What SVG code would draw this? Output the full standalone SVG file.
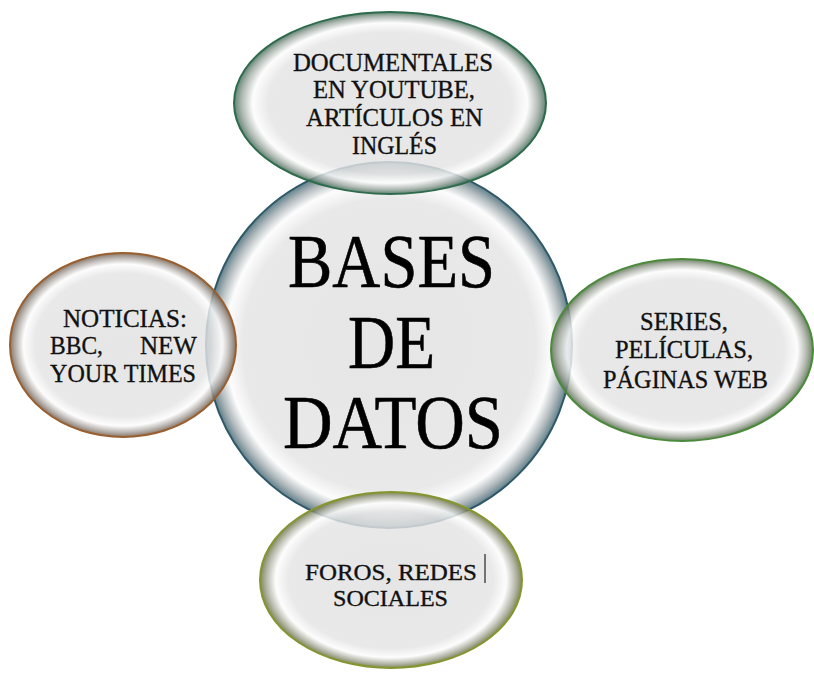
<svg xmlns="http://www.w3.org/2000/svg" width="814" height="673" viewBox="0 0 814 673">
<defs>
<radialGradient id="gC"><stop offset="0" stop-color="#e0e0e0"/><stop offset="0.8" stop-color="#e4e4e4"/><stop offset="0.89" stop-color="#fcfcfc"/><stop offset="0.95" stop-color="#a3adb1"/><stop offset="1" stop-color="#3f6470"/></radialGradient>
<radialGradient id="gT"><stop offset="0" stop-color="#e0e0e0"/><stop offset="0.78" stop-color="#e4e4e4"/><stop offset="0.88" stop-color="#fcfcfc"/><stop offset="0.95" stop-color="#a0aba4"/><stop offset="1" stop-color="#3f6a55"/></radialGradient>
<radialGradient id="gL"><stop offset="0" stop-color="#e0e0e0"/><stop offset="0.78" stop-color="#e4e4e4"/><stop offset="0.88" stop-color="#fcfcfc"/><stop offset="0.95" stop-color="#a8a29d"/><stop offset="1" stop-color="#6e5a48"/></radialGradient>
<radialGradient id="gR"><stop offset="0" stop-color="#e0e0e0"/><stop offset="0.78" stop-color="#e4e4e4"/><stop offset="0.88" stop-color="#fcfcfc"/><stop offset="0.95" stop-color="#a4aa9f"/><stop offset="1" stop-color="#4f6a45"/></radialGradient>
<radialGradient id="gB"><stop offset="0" stop-color="#e0e0e0"/><stop offset="0.78" stop-color="#e4e4e4"/><stop offset="0.88" stop-color="#fcfcfc"/><stop offset="0.95" stop-color="#a7aa99"/><stop offset="1" stop-color="#666d3a"/></radialGradient>
</defs>
<style>
.n{fill-opacity:0.82;stroke-width:2}
.t{font-family:"Liberation Serif","DejaVu Serif",serif;font-size:26px;fill:#111;stroke:#111;stroke-width:0.35}
.s{font-size:24px}
.big{font-family:"Liberation Serif","DejaVu Serif",serif;font-size:76px;fill:#000;stroke:#000;stroke-width:0.6}
</style>
<rect width="814" height="673" fill="#ffffff"/>
<g id="connectors"/>
<g id="center">
<circle class="n" cx="389" cy="345" r="183" fill="url(#gC)" stroke="#2f5868"/>
<text class="big" x="288" y="287" textLength="207" lengthAdjust="spacingAndGlyphs">BASES</text>
<text class="big" x="348" y="368" textLength="87" lengthAdjust="spacingAndGlyphs">DE</text>
<text class="big" x="283" y="448" textLength="220" lengthAdjust="spacingAndGlyphs">DATOS</text>
</g>
<g id="top">
<ellipse class="n" cx="390" cy="103" rx="156" ry="91" fill="url(#gT)" stroke="#2e6a4c"/>
<text class="t" x="293" y="71" textLength="200" lengthAdjust="spacingAndGlyphs">DOCUMENTALES</text>
<text class="t" x="313" y="98" textLength="162" lengthAdjust="spacingAndGlyphs">EN YOUTUBE,</text>
<text class="t" x="306" y="126" textLength="177" lengthAdjust="spacingAndGlyphs">ARTÍCULOS EN</text>
<text class="t" x="352" y="154" textLength="85" lengthAdjust="spacingAndGlyphs">INGLÉS</text>
</g>
<g id="left">
<ellipse class="n" cx="123" cy="345" rx="113" ry="92" fill="url(#gL)" stroke="#9a5f2e"/>
<text class="t" x="63" y="327" textLength="124" lengthAdjust="spacingAndGlyphs">NOTICIAS:</text>
<text class="t" y="354"><tspan x="50" textLength="53" lengthAdjust="spacingAndGlyphs">BBC,</tspan><tspan x="140" textLength="57" lengthAdjust="spacingAndGlyphs">NEW</tspan></text>
<text class="t" x="50" y="382" textLength="146" lengthAdjust="spacingAndGlyphs">YOUR TIMES</text>
</g>
<g id="right">
<ellipse class="n" cx="682" cy="350" rx="131" ry="91" fill="url(#gR)" stroke="#4a8a3a"/>
<text class="t" x="640" y="330" textLength="88" lengthAdjust="spacingAndGlyphs">SERIES,</text>
<text class="t" x="615" y="358" textLength="138" lengthAdjust="spacingAndGlyphs">PELÍCULAS,</text>
<text class="t" x="603" y="388" textLength="165" lengthAdjust="spacingAndGlyphs">PÁGINAS WEB</text>
</g>
<g id="bottom">
<ellipse class="n" cx="391" cy="580" rx="131" ry="88" fill="url(#gB)" stroke="#86962e"/>
<text class="t s" x="305" y="580" textLength="172" lengthAdjust="spacingAndGlyphs">FOROS, REDES</text>
<text class="t s" x="333" y="606" textLength="115" lengthAdjust="spacingAndGlyphs">SOCIALES</text>
<line x1="485" y1="554" x2="485" y2="583" stroke="#333" stroke-width="1.3"/>
</g>
</svg>
